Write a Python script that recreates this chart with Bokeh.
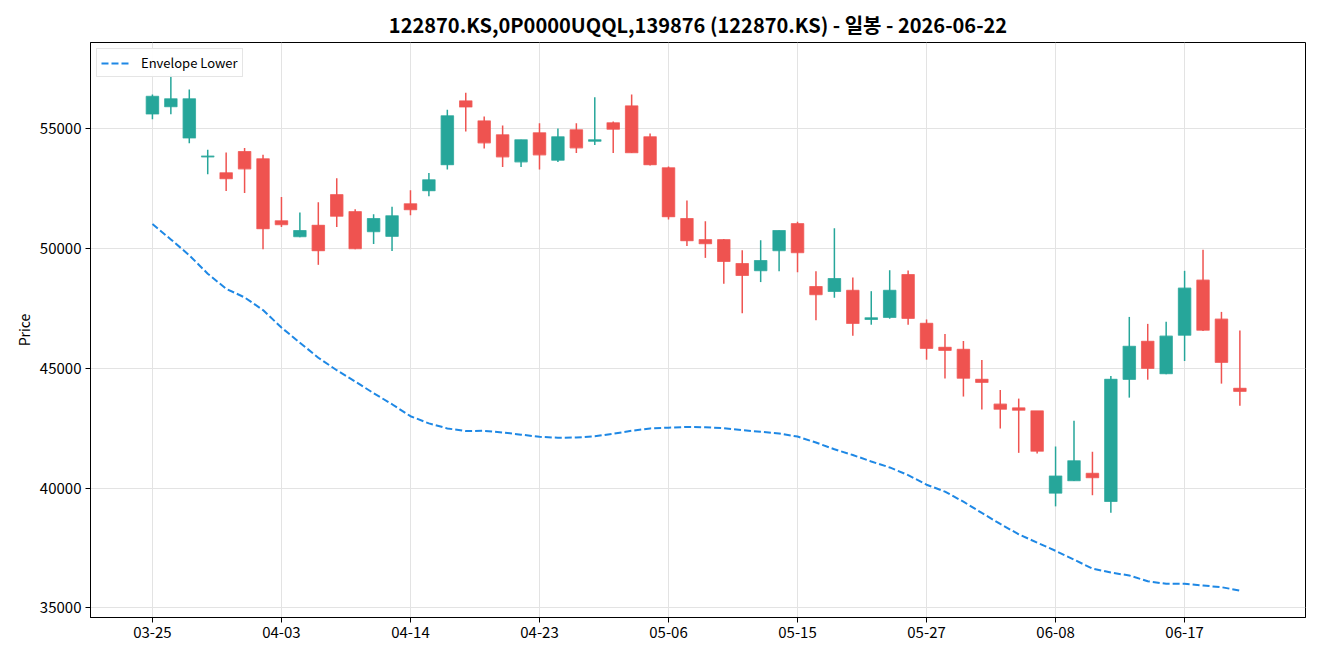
from bokeh.plotting import figure
from bokeh.models import ColumnDataSource, Range1d, FixedTicker, Legend, LegendItem
from bokeh.embed import file_html
from bokeh.resources import INLINE

# Trading days (MM-DD)
dates = ["03-25", "03-26", "03-27", "03-30", "03-31", "04-01", "04-02", "04-03",
         "04-06", "04-07", "04-08", "04-09", "04-10", "04-13", "04-14",
         "04-15", "04-16", "04-17", "04-20", "04-21", "04-22", "04-23",
         "04-24", "04-27", "04-28", "04-29", "04-30", "05-04", "05-06",
         "05-07", "05-08", "05-11", "05-12", "05-13", "05-14", "05-15",
         "05-18", "05-19", "05-20", "05-21", "05-22", "05-26", "05-27",
         "05-28", "05-29", "06-01", "06-02", "06-04", "06-05", "06-08",
         "06-09", "06-10", "06-11", "06-12", "06-15", "06-16", "06-17",
         "06-18", "06-19", "06-22"]

opens = [55620, 55920, 54620, 53830, 53165, 54050, 53750, 51160, 50500, 50970,
         52250, 51540, 50710, 50510, 51870, 52415, 53500, 56165, 55330, 54750,
         53620, 54830, 53690, 54955, 54480, 55250, 55955, 54665, 53370, 51250,
         50370, 50370, 49375, 49080, 49915, 51040, 48415, 48210, 48250, 47040,
         47125, 48915, 46875, 45875, 45790, 44540, 43500, 43345, 43220, 39790,
         40305, 40610, 39440, 44540, 46130, 44777, 46380, 48680, 47050, 44165]
highs = [56430, 57300, 56640, 54120, 54010, 54200, 53920, 52150, 51510, 51930,
         52940, 51640, 51430, 51740, 52430, 53150, 55800, 56510, 55510, 55140,
         54540, 55230, 55010, 55230, 56320, 55300, 56430, 54800, 53430, 52010,
         51140, 50400, 49930, 50345, 50750, 51120, 49050, 50845, 48790, 48220,
         49095, 49085, 47040, 46430, 46140, 45345, 44095, 43735, 43220, 41735,
         42805, 41515, 44680, 47145, 46855, 46940, 49070, 49950, 47355, 46575]
lows = [55400, 55610, 54400, 53100, 52400, 52320, 49970, 50900, 50470, 49320,
        50900, 49970, 50190, 49900, 51390, 52180, 53300, 54890, 54180, 53400,
        53400, 53300, 53610, 53985, 54320, 53985, 53985, 53470, 51210, 50110,
        49610, 48530, 47300, 48600, 49050, 49010, 47010, 47945, 46360, 46820,
        47070, 46820, 45360, 44570, 43820, 43280, 42485, 41470, 41445, 39235,
        40290, 39700, 38965, 43775, 44525, 44750, 45305, 46560, 44360, 43440]
closes = [56350, 56250, 56250, 53860, 52915, 53330, 50830, 51000, 50750, 49910,
          51350, 50000, 51250, 51370, 51620, 52870, 55540, 55915, 54415, 53830,
          54540, 53915, 54665, 54205, 54540, 54985, 54000, 53500, 51330, 50330,
          50200, 49460, 48875, 49500, 50750, 49830, 48080, 48750, 46875, 47110,
          48250, 47085, 45835, 45750, 44585, 44415, 43290, 43250, 41540, 40500,
          41140, 40430, 44540, 45920, 45000, 46340, 48345, 46590, 45250, 44040]

# Lower envelope band
envelope_lower = [51025, 50380, 49720, 48950, 48320, 47960, 47430, 46700, 46070, 45440,
                  44920, 44450, 43960, 43500, 43000, 42700, 42490, 42380, 42390, 42320,
                  42230, 42140, 42100, 42110, 42160, 42270, 42390, 42490, 42520, 42550,
                  42540, 42500, 42420, 42350, 42280, 42150, 41900, 41620, 41380, 41110,
                  40860, 40540, 40140, 39850, 39430, 38960, 38500, 38070, 37720, 37380,
                  37010, 36640, 36470, 36350, 36110, 36000, 36000, 35930, 35860, 35720]

y_ticks = [35000, 40000, 45000, 50000, 55000]

UP = "#26a69a"
DOWN = "#ef5350"
FONT = "Noto Sans CJK KR"

idx = list(range(len(dates)))


def candle_source(flag):
    sel = [i for i in idx if (closes[i] >= opens[i]) == flag]
    return ColumnDataSource(dict(
        x=sel,
        high=[highs[i] for i in sel],
        low=[lows[i] for i in sel],
        top=[max(opens[i], closes[i]) for i in sel],
        bottom=[min(opens[i], closes[i]) for i in sel],
    ))


up_src = candle_source(True)
down_src = candle_source(False)

p = figure(
    frame_width=1215, frame_height=575,
    x_range=Range1d(-3.36, 62.56), y_range=Range1d(34595, 58603),
    output_backend="svg", toolbar_location=None,
    min_border_left=90, min_border_right=15, min_border_top=42, min_border_bottom=43,
    background_fill_color="white", border_fill_color="white",
)

p.title.text = "122870.KS,0P0000UQQL,139876 (122870.KS) - 일봉 - 2026-06-22"
p.title.align = "center"
p.title.text_font = FONT
p.title.text_font_style = "bold"
p.title.text_font_size = "20px"
p.title.text_color = "black"
p.title.standoff = 8

# Wicks and bodies
for src, col in ((up_src, UP), (down_src, DOWN)):
    p.segment(x0="x", y0="low", x1="x", y1="high", source=src, color=col, line_width=1.5)
    p.vbar(x="x", top="top", bottom="bottom", width=0.67, source=src,
           fill_color=col, line_color=col, line_alpha=0.75, line_width=1.2)

env = p.line(idx, envelope_lower, color="#1e88e5", line_width=2, line_dash="7 3")

legend = Legend(items=[LegendItem(label="Envelope Lower", renderers=[env])],
                location="top_left")
legend.label_text_font = FONT
legend.label_text_font_size = "13px"
legend.label_text_color = "black"
legend.border_line_color = "#cccccc"
legend.border_line_width = 1
legend.padding = 4
legend.margin = 6
legend.glyph_height = 16
legend.glyph_width = 28
legend.label_standoff = 12
legend.label_height = 16
p.add_layout(legend)

# Axes
p.xaxis.ticker = FixedTicker(ticks=list(range(0, len(dates), 7)))
p.xaxis.major_label_overrides = {i: dates[i] for i in range(0, len(dates), 7)}
p.yaxis.ticker = FixedTicker(ticks=y_ticks)
p.yaxis.axis_label = "Price"
p.yaxis.axis_label_text_font_style = "normal"
p.yaxis.axis_label_text_font = FONT
p.yaxis.axis_label_text_font_size = "14px"
p.yaxis.axis_label_text_color = "black"
p.yaxis.axis_label_standoff = 3
for ax in (p.xaxis, p.yaxis):
    ax.major_label_text_font = FONT
    ax.major_label_text_font_size = "15px"
    ax.major_label_text_color = "black"
    ax.axis_line_color = "black"
    ax.major_tick_line_color = "black"
    ax.major_tick_out = 5
    ax.major_tick_in = 0
    ax.minor_tick_line_color = None
    ax.major_label_standoff = 4

p.grid.grid_line_color = "#e3e3e3"
p.grid.grid_line_width = 1
p.outline_line_color = "black"
p.outline_line_width = 1
p.outline_line_alpha = 1

open("out.html", "w").write(file_html(p, INLINE))
